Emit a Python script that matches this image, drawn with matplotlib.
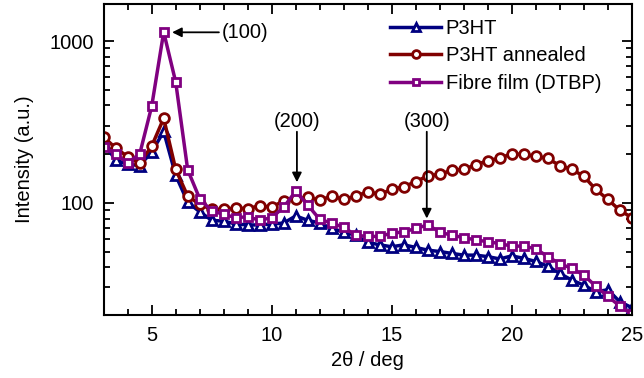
import numpy as np
import matplotlib
matplotlib.use("Agg")
import matplotlib.pyplot as plt

plt.rcParams['font.family'] = ['Liberation Sans', 'DejaVu Sans']
plt.rcParams['font.size'] = 14.5

# 2theta positions of the plotted markers (deg)
two_theta = [3.0, 3.5, 4.0, 4.5, 5.0, 5.5, 6.0, 6.5, 7.0, 7.5, 8.0, 8.5, 9.0, 9.5,
             10.0, 10.5, 11.0, 11.5, 12.0, 12.5, 13.0, 13.5, 14.0, 14.5, 15.0, 15.5,
             16.0, 16.5, 17.0, 17.5, 18.0, 18.5, 19.0, 19.5, 20.0, 20.5, 21.0, 21.5,
             22.0, 22.5, 23.0, 23.5, 24.0, 24.5, 25.0]

p3ht = [233, 184, 173, 170, 206, 276, 148, 101, 88, 78, 77, 74, 73, 73,
        74, 75, 83, 78, 75, 69.5, 66, 63, 57, 55, 53.5, 55,
        53, 51, 50, 48.7, 47.5, 47.5, 46.5, 45, 47, 45.4, 43.4, 40.6,
        36.6, 33.3, 31, 28.2, 29, 24.5, 22.5]

p3ht_annealed = [255, 218, 193, 176, 224, 333, 161, 110, 98, 91, 91, 93, 92, 96,
                 94, 103, 106, 108, 104, 110, 105, 110, 117, 113, 121, 126,
                 135, 147, 150, 159, 161, 172, 182, 189, 201, 199, 194, 188,
                 170, 161, 146, 121, 105, 90, 81]

fibre_film = [222, 199, 177, 200, 395, 1136, 558, 160, 106, 89, 85, 81, 82, 78,
              81, 94, 118, 97, 79, 75, 70.5, 63, 62, 62, 65, 66,
              69.5, 73, 66, 63, 61, 59, 57.5, 56, 54, 54, 52, 46.5,
              42, 39.4, 35.8, 30.5, 26.5, 23, 20.5]

labels = ['P3HT', 'P3HT annealed', 'Fibre film (DTBP)']
colors = ['#000080', '#800000', '#800080']
markers = ['^', 'o', 's']
msizes = [7, 7, 6]

fig = plt.figure(figsize=(6.44, 3.78), dpi=100)
ax = fig.add_axes([0.161, 0.167, 0.820, 0.822])

for y, lab, c, m, ms in zip([p3ht, p3ht_annealed, fibre_film], labels, colors, markers, msizes):
    ax.plot(two_theta, y, color=c, lw=2.5, marker=m, ms=ms, mfc='white',
            mec=c, mew=2, label=lab)

ax.set_yscale('log')
ax.set_xlim(3, 25)
ax.set_ylim(20.3, 1690)
ax.set_xticks([5, 10, 15, 20, 25])
ax.set_xticks(np.arange(3, 26, 1), minor=True)
ax.set_yticks([100, 1000])
ax.set_yticklabels(['100', '1000'])
ax.yaxis.set_minor_formatter(matplotlib.ticker.NullFormatter())
ax.tick_params(which='both', direction='in', top=True, right=True, width=1.3)
ax.tick_params(which='major', length=7, labelsize=14.5)
ax.tick_params(axis='x', which='major', pad=8)
ax.tick_params(axis='y', which='major', pad=7)
ax.tick_params(which='minor', length=4)
for s in ax.spines.values():
    s.set_linewidth(1.5)

ax.set_xlabel('2θ / deg', labelpad=4)
ax.set_ylabel('Intensity (a.u.)', labelpad=11)

leg = ax.legend(loc='upper left', bbox_to_anchor=(0.543, 0.953), frameon=False,
                numpoints=1, handlelength=2.5, handletextpad=0.25, borderpad=0,
                labelspacing=0.42, borderaxespad=0, markerscale=0.8)

arrow = dict(arrowstyle='-|>', color='black', lw=1.3, mutation_scale=14,
             shrinkA=0, shrinkB=0)
ax.annotate('', xy=(5.85, 1132), xytext=(7.8, 1132), arrowprops=arrow)
ax.text(7.9, 1132, '(100)', ha='left', va='center')
ax.annotate('', xy=(11.05, 134), xytext=(11.05, 275), arrowprops=arrow)
ax.text(11.05, 320, '(200)', ha='center', va='center')
ax.annotate('', xy=(16.46, 80), xytext=(16.46, 275), arrowprops=arrow)
ax.text(16.46, 320, '(300)', ha='center', va='center')

fig.savefig('out.png', dpi=100)
